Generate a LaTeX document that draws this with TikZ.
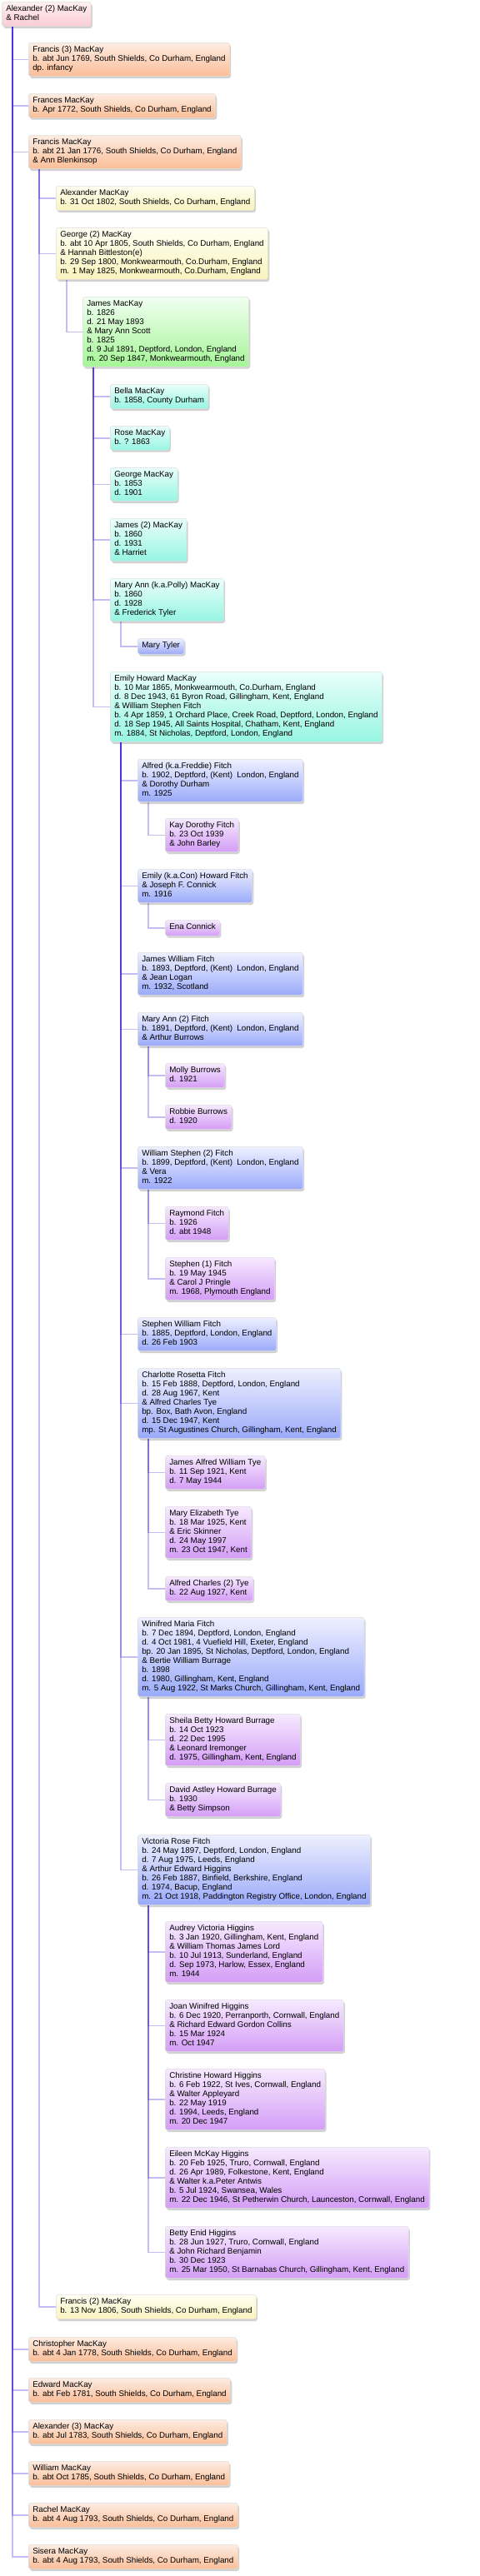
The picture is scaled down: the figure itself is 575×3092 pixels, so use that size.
\documentclass[tikz,border=0pt]{standalone}
\usepackage{fontspec}
\setmainfont{Liberation Sans}
\usetikzlibrary{shadows}
\tikzset{every picture/.style={line width=0.75pt}}
\newcommand{\boxfont}{\fontsize{7.35}{8.25}\selectfont}
\definecolor{pinktop}{RGB}{255,240,242}\definecolor{pinkbot}{RGB}{249,204,212}
\definecolor{peachtop}{RGB}{253,236,226}\definecolor{peachbot}{RGB}{251,190,152}
\definecolor{yelltop}{RGB}{255,255,242}\definecolor{yellbot}{RGB}{249,243,190}
\definecolor{greentop}{RGB}{240,255,240}\definecolor{greenbot}{RGB}{166,245,152}
\definecolor{cyantop}{RGB}{234,255,251}\definecolor{cyanbot}{RGB}{150,245,226}
\definecolor{bluetop}{RGB}{238,240,255}\definecolor{bluebot}{RGB}{154,170,250}
\definecolor{purptop}{RGB}{246,234,255}\definecolor{purpbot}{RGB}{212,157,246}
\definecolor{linkcol}{RGB}{70,46,214}
\tikzset{
  person/.style={anchor=north west, rounded corners=2.25pt, draw=black!13, line width=0.4pt,
    align=left, inner xsep=3.75pt, inner ysep=3pt, font=\boxfont,
    execute at begin node=\strut, execute at end node=\strut,
    drop shadow={shadow xshift=1.2pt, shadow yshift=-1.8pt, opacity=0.18, fill=black}},
  gpink/.style={person, top color=pinktop, bottom color=pinkbot},
  gpeach/.style={person, top color=peachtop, bottom color=peachbot},
  gyell/.style={person, top color=yelltop, bottom color=yellbot},
  ggreen/.style={person, top color=greentop, bottom color=greenbot},
  gcyan/.style={person, top color=cyantop, bottom color=cyanbot},
  gblue/.style={person, top color=bluetop, bottom color=bluebot},
  gpurp/.style={person, top color=purptop, bottom color=purpbot},
  link/.style={draw=linkcol, draw opacity=0.32, line width=1.1pt}
}

\begin{document}
\begin{tikzpicture}[x=0.75pt,y=0.75pt,yscale=-1,xscale=1]
\useasboundingbox (0,0) rectangle (575,3092);
% Text Node
\node [gpink] (root) at (2,2) {Alexander (2) MacKay\\\& Rachel};
% Text Node
\node [gpeach] (francisIII) at (34,51) {Francis (3) MacKay\\b. abt Jun 1769, South Shields, Co Durham, England\\dp. infancy};
\node [gpeach] (frances) at (34,112) {Frances MacKay\\b. Apr 1772, South Shields, Co Durham, England};
\node [gpeach] (francis) at (34,162) {Francis MacKay\\b. abt 21 Jan 1776, South Shields, Co Durham, England\\\& Ann Blenkinsop};
% Text Node
\node [gyell] (alexander) at (67,223) {Alexander MacKay\\b. 31 Oct 1802, South Shields, Co Durham, England};
\node [gyell] (georgeII) at (67,273) {George (2) MacKay\\b. abt 10 Apr 1805, South Shields, Co Durham, England\\\& Hannah Bittleston(e)\\b. 29 Sep 1800, Monkwearmouth, Co.Durham, England\\m. 1 May 1825, Monkwearmouth, Co.Durham, England};
% Text Node
\node [ggreen] (james) at (99,356) {James MacKay\\b. 1826\\d. 21 May 1893\\\& Mary Ann Scott\\b. 1825\\d. 9 Jul 1891, Deptford, London, England\\m. 20 Sep 1847, Monkwearmouth, England};
% Text Node
\node [gcyan] (bella) at (132,461) {Bella MacKay\\b. 1858, County Durham};
\node [gcyan] (rose) at (132,511) {Rose MacKay\\b. ? 1863};
\node [gcyan] (georgeM) at (132,561) {George MacKay\\b. 1853\\d. 1901};
\node [gcyan] (jamesII) at (132,622) {James (2) MacKay\\b. 1860\\d. 1931\\\& Harriet};
\node [gcyan] (maryAnn) at (132,694) {Mary Ann (k.a.Polly) MacKay\\b. 1860\\d. 1928\\\& Frederick Tyler};
\node [gblue] (maryTyler) at (165,766) {Mary Tyler};
\node [gcyan] (emily) at (132,806) {Emily Howard MacKay\\b. 10 Mar 1865, Monkwearmouth, Co.Durham, England\\d. 8 Dec 1943, 61 Byron Road, Gillingham, Kent, England\\\& William Stephen Fitch\\b. 4 Apr 1859, 1 Orchard Place, Creek Road, Deptford, London, England\\d. 18 Sep 1945, All Saints Hospital, Chatham, Kent, England\\m. 1884, St Nicholas, Deptford, London, England};
% Text Node
\node [gblue] (alfred) at (165,911) {Alfred (k.a.Freddie) Fitch\\b. 1902, Deptford, (Kent)\ \ London, England\\\& Dorothy Durham\\m. 1925};
\node [gpurp] (kay) at (198,982) {Kay Dorothy Fitch\\b. 23 Oct 1939\\\& John Barley};
\node [gblue] (emilyCon) at (165,1043) {Emily (k.a.Con) Howard Fitch\\\& Joseph F. Connick\\m. 1916};
\node [gpurp] (ena) at (198,1104) {Ena Connick};
\node [gblue] (jamesW) at (165,1143) {James William Fitch\\b. 1893, Deptford, (Kent)\ \ London, England\\\& Jean Logan\\m. 1932, Scotland};
\node [gblue] (maryAnnII) at (165,1215) {Mary Ann (2) Fitch\\b. 1891, Deptford, (Kent)\ \ London, England\\\& Arthur Burrows};
\node [gpurp] (molly) at (198,1276) {Molly Burrows\\d. 1921};
\node [gpurp] (robbie) at (198,1326) {Robbie Burrows\\d. 1920};
\node [gblue] (williamS) at (165,1376) {William Stephen (2) Fitch\\b. 1899, Deptford, (Kent)\ \ London, England\\\& Vera\\m. 1922};
\node [gpurp] (raymond) at (198,1448) {Raymond Fitch\\b. 1926\\d. abt 1948};
\node [gpurp] (stephenI) at (198,1509) {Stephen (1) Fitch\\b. 19 May 1945\\\& Carol J Pringle\\m. 1968, Plymouth England};
\node [gblue] (stephenW) at (165,1581) {Stephen William Fitch\\b. 1885, Deptford, London, England\\d. 26 Feb 1903};
\node [gblue] (charlotte) at (165,1642) {Charlotte Rosetta Fitch\\b. 15 Feb 1888, Deptford, London, England\\d. 28 Aug 1967, Kent\\\& Alfred Charles Tye\\bp. Box, Bath Avon, England\\d. 15 Dec 1947, Kent\\mp. St Augustines Church, Gillingham, Kent, England};
\node [gpurp] (jamesA) at (198,1747) {James Alfred William Tye\\b. 11 Sep 1921, Kent\\d. 7 May 1944};
\node [gpurp] (maryE) at (198,1808) {Mary Elizabeth Tye\\b. 18 Mar 1925, Kent\\\& Eric Skinner\\d. 24 May 1997\\m. 23 Oct 1947, Kent};
\node [gpurp] (alfredC) at (198,1892) {Alfred Charles (2) Tye\\b. 22 Aug 1927, Kent};
\node [gblue] (winifred) at (165,1941) {Winifred Maria Fitch\\b. 7 Dec 1894, Deptford, London, England\\d. 4 Oct 1981, 4 Vuefield Hill, Exeter, England\\bp. 20 Jan 1895, St Nicholas, Deptford, London, England\\\& Bertie William Burrage\\b. 1898\\d. 1980, Gillingham, Kent, England\\m. 5 Aug 1922, St Marks Church, Gillingham, Kent, England};
\node [gpurp] (sheila) at (198,2057) {Sheila Betty Howard Burrage\\b. 14 Oct 1923\\d. 22 Dec 1995\\\& Leonard Iremonger\\d. 1975, Gillingham, Kent, England};
\node [gpurp] (david) at (198,2140) {David Astley Howard Burrage\\b. 1930\\\& Betty Simpson};
\node [gblue] (victoria) at (165,2202) {Victoria Rose Fitch\\b. 24 May 1897, Deptford, London, England\\d. 7 Aug 1975, Leeds, England\\\& Arthur Edward Higgins\\b. 26 Feb 1887, Binfield, Berkshire, England\\d. 1974, Bacup, England\\m. 21 Oct 1918, Paddington Registry Office, London, England};
\node [gpurp] (audrey) at (198,2306) {Audrey Victoria Higgins\\b. 3 Jan 1920, Gillingham, Kent, England\\\& William Thomas James Lord\\b. 10 Jul 1913, Sunderland, England\\d. Sep 1973, Harlow, Essex, England\\m. 1944};
\node [gpurp] (joan) at (198,2400) {Joan Winifred Higgins\\b. 6 Dec 1920, Perranporth, Cornwall, England\\\& Richard Edward Gordon Collins\\b. 15 Mar 1924\\m. Oct 1947};
\node [gpurp] (christine) at (198,2483) {Christine Howard Higgins\\b. 6 Feb 1922, St Ives, Cornwall, England\\\& Walter Appleyard\\b. 22 May 1919\\d. 1994, Leeds, England\\m. 20 Dec 1947};
\node [gpurp] (eileen) at (198,2577) {Eileen McKay Higgins\\b. 20 Feb 1925, Truro, Cornwall, England\\d. 26 Apr 1989, Folkestone, Kent, England\\\& Walter k.a.Peter Antwis\\b. 5 Jul 1924, Swansea, Wales\\m. 22 Dec 1946, St Petherwin Church, Launceston, Cornwall, England};
\node [gpurp] (betty) at (198,2672) {Betty Enid Higgins\\b. 28 Jun 1927, Truro, Cornwall, England\\\& John Richard Benjamin\\b. 30 Dec 1923\\m. 25 Mar 1950, St Barnabas Church, Gillingham, Kent, England};
% Text Node
\node [gyell] (francisII) at (67,2754) {Francis (2) MacKay\\b. 13 Nov 1806, South Shields, Co Durham, England};
% Text Node
\node [gpeach] (christopher) at (34,2805) {Christopher MacKay\\b. abt 4 Jan 1778, South Shields, Co Durham, England};
\node [gpeach] (edward) at (34,2854) {Edward MacKay\\b. abt Feb 1781, South Shields, Co Durham, England};
\node [gpeach] (alexanderIII) at (34,2904) {Alexander (3) MacKay\\b. abt Jul 1783, South Shields, Co Durham, England};
\node [gpeach] (william) at (34,2954) {William MacKay\\b. abt Oct 1785, South Shields, Co Durham, England};
\node [gpeach] (rachel) at (34,3004) {Rachel MacKay\\b. abt 4 Aug 1793, South Shields, Co Durham, England};
\node [gpeach] (sisera) at (34,3054) {Sisera MacKay\\b. abt 4 Aug 1793, South Shields, Co Durham, England};

%Connectors: one per child, overlapping near the parent
\foreach \c in {francisIII,frances,francis,christopher,edward,alexanderIII,william,rachel,sisera}
  \draw [link] ([xshift=9.75pt]root.south west) |- (\c.west);
\foreach \c in {alexander,georgeII,francisII}
  \draw [link] ([xshift=9.75pt]francis.south west) |- (\c.west);
\draw [link] ([xshift=9.75pt]georgeII.south west) |- (james.west);
\foreach \c in {bella,rose,georgeM,jamesII,maryAnn,emily}
  \draw [link] ([xshift=9.75pt]james.south west) |- (\c.west);
\draw [link] ([xshift=9.75pt]maryAnn.south west) |- (maryTyler.west);
\foreach \c in {alfred,emilyCon,jamesW,maryAnnII,williamS,stephenW,charlotte,winifred,victoria}
  \draw [link] ([xshift=9.75pt]emily.south west) |- (\c.west);
\draw [link] ([xshift=9.75pt]alfred.south west) |- (kay.west);
\draw [link] ([xshift=9.75pt]emilyCon.south west) |- (ena.west);
\foreach \c in {molly,robbie}
  \draw [link] ([xshift=9.75pt]maryAnnII.south west) |- (\c.west);
\foreach \c in {raymond,stephenI}
  \draw [link] ([xshift=9.75pt]williamS.south west) |- (\c.west);
\foreach \c in {jamesA,maryE,alfredC}
  \draw [link] ([xshift=9.75pt]charlotte.south west) |- (\c.west);
\foreach \c in {sheila,david}
  \draw [link] ([xshift=9.75pt]winifred.south west) |- (\c.west);
\foreach \c in {audrey,joan,christine,eileen,betty}
  \draw [link] ([xshift=9.75pt]victoria.south west) |- (\c.west);
\end{tikzpicture}
\end{document}
